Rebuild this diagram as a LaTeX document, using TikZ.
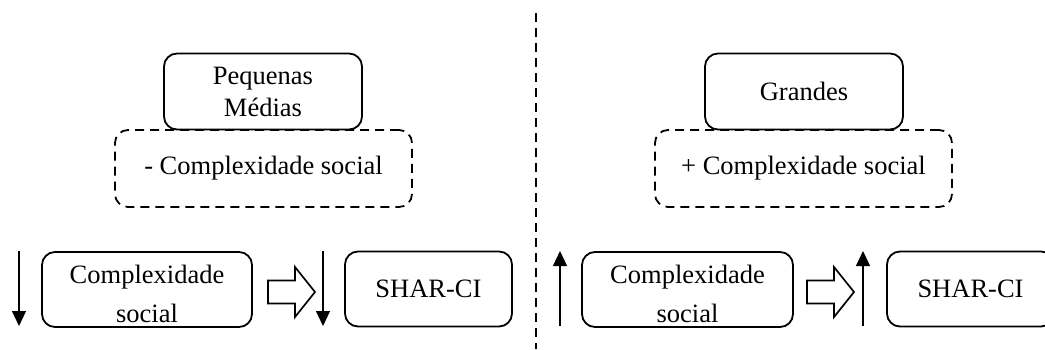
\documentclass[tikz,border=0pt]{standalone}
\usepackage{fontspec}
\setmainfont{Liberation Serif}
\usepackage{tikz}
\usetikzlibrary{arrows.meta, positioning}

\tikzset{
  caixa/.style={draw, line width=1.8pt, rounded corners=13pt, align=center, inner sep=0pt},
  tracejada/.style={caixa, dash pattern=on 9pt off 6pt},
  seta/.style={line width=1.2pt, -{Triangle[length=15pt, width=14pt]}},
  setaoca/.pic={
    \draw[line width=1.7pt, line join=miter]
      (0,-11.5) -- (27,-11.5) -- (27,-25) -- (47,0) -- (27,25) -- (27,11.5) -- (0,11.5) -- cycle;
  },
}

\begin{document}
\begin{tikzpicture}[x=1pt, y=-1pt, font=\fontsize{26.5}{32}\selectfont]
  \useasboundingbox (0,0) rectangle (1045,349);

  % ── Divisória ────────────────────────────────────────────────────────────
  \coordinate (divtopo) at (536,13);
  \coordinate (divbase) at (536,349);
  \draw[line width=2pt, dash pattern=on 8.5pt off 6.5pt] (divtopo) -- (divbase);

  % ── Lado esquerdo: pequenas e médias ─────────────────────────────────────
  \node[tracejada, minimum width=297pt, minimum height=77pt] (menoscomp)
    at (263.5,168.5) {- Complexidade social};
  \node[caixa, minimum width=198pt, minimum height=76pt] (pequenas)
    at (263,91.5) {Pequenas\\Médias};

  \node[caixa, minimum width=210pt, minimum height=75pt] (compesq)
    at (147,289.5) {\rule{0pt}{28pt}Complexidade\\[7pt]social};
  \node[caixa, minimum width=167pt, minimum height=75pt] (sharesq)
    at (428.5,289) {SHAR-CI};

  % setas finas (descem)
  \coordinate (desceA1) at (19,251);
  \coordinate (desceA2) at (19,326);
  \coordinate (desceB1) at (323,251);
  \coordinate (desceB2) at (323,326);
  \draw[seta] (desceA1) -- (desceA2);
  \draw[seta] (desceB1) -- (desceB2);

  \pic at (268,292) {setaoca};

  % ── Lado direito: grandes ────────────────────────────────────────────────
  \node[tracejada, minimum width=297pt, minimum height=77pt] (maiscomp)
    at (803.5,168.5) {+ Complexidade social};
  \node[caixa, minimum width=198pt, minimum height=76pt] (grandes)
    at (804,91.5) {Grandes};

  \node[caixa, minimum width=211pt, minimum height=75pt] (compdir)
    at (687.5,289.5) {\rule{0pt}{28pt}Complexidade\\[7pt]social};
  \node[caixa, minimum width=167pt, minimum height=75pt] (sharedir)
    at (970.5,289) {SHAR-CI};

  % setas finas (sobem)
  \coordinate (sobeA1) at (560,326);
  \coordinate (sobeA2) at (560,251);
  \coordinate (sobeB1) at (863,326);
  \coordinate (sobeB2) at (863,251);
  \draw[seta] (sobeA1) -- (sobeA2);
  \draw[seta] (sobeB1) -- (sobeB2);

  \pic at (807,292) {setaoca};
\end{tikzpicture}
\end{document}
